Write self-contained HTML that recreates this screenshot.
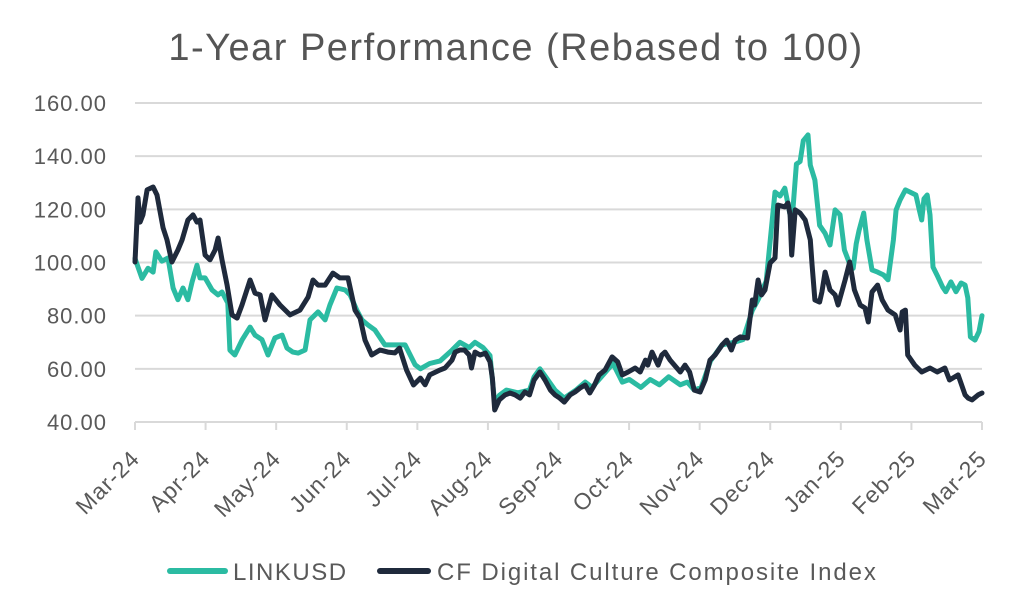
<!DOCTYPE html>
<html><head><meta charset="utf-8"><style>
body{margin:0;background:#fff;}
svg text{font-family:"Liberation Sans",sans-serif;fill:#595959;}
</style></head><body>
<svg id="chart" width="1014" height="604" xmlns="http://www.w3.org/2000/svg">
<text x="516" y="60" text-anchor="middle" font-size="38" letter-spacing="1.5" style="fill:#555">1-Year Performance (Rebased to 100)</text>
<g id="grid"></g><g id="yaxis"></g><g id="xaxis"></g><g id="series"></g>
<g>
<line x1="170" y1="571" x2="225" y2="571" stroke="#2bbba2" stroke-width="6" stroke-linecap="round"/>
<text x="233" y="580" font-size="24" letter-spacing="1.5">LINKUSD</text>
<line x1="380" y1="571" x2="428" y2="571" stroke="#1f2a3c" stroke-width="6" stroke-linecap="round"/>
<text x="437" y="580" font-size="24" letter-spacing="1.9">CF Digital Culture Composite Index</text>
</g>
</svg>
<script>
const yTicks=[40,60,80,100,120,140,160];
const xLabels=["Mar-24","Apr-24","May-24","Jun-24","Jul-24","Aug-24","Sep-24","Oct-24","Nov-24","Dec-24","Jan-25","Feb-25","Mar-25"];
const cfDays=[0,1.3,2.2,3.4,5.2,7.8,9.5,12.1,13.8,15.9,18.5,20.3,22.8,25,26.7,28,30.2,32.3,34.5,35.8,37.5,39.7,41.8,44,46.1,49.6,51.7,53.9,56,59,62.5,66.8,71.1,74.6,76.7,78.9,81.9,85.3,88.3,91.8,94.8,97,99.1,102,105.6,109,112,114,117,120,123,125,127,131.5,133.6,136.6,138,140,142,144,145,146.5,148.7,151,153,154,155,157,159.5,161.6,163.8,166,168,170,172,174.5,176.7,179,181,183,185,187.5,189.6,191.8,194,196,198,200,202.6,205.6,208,210,212.5,215.5,217.7,220,221,222.8,225.4,227,228.4,230.6,235,237,239,241,243.5,245.7,247.8,250,253,255,257,258.6,260.8,264,266,267,268.5,270,271.5,273.7,275.8,277,280,281.4,282.3,283,284.5,286.6,288.8,291,291.8,293,295,296,297.4,299.5,301.7,303,306,308,310,312.5,314.6,316,317.6,320,322,324.5,327.6,329.7,330.6,332,333,336,339,342.6,345.7,349,351,354.7,357.7,359,360.7,363.3,365];
const cfValues=[100.2,124.3,115.2,117.9,127.3,128.4,125.4,113,108.5,100.2,104.7,108.5,116,117.9,115.2,116,102.8,101,104.7,109.2,101,91.5,80.3,79.1,84,93.4,88.5,87.8,78.4,87.8,84,80.3,82.1,87,93.4,91.5,91.5,96,94.2,94.2,82.1,79.1,70.8,65.2,67.1,66.3,66,67.8,59.6,53.9,56.5,54,57.7,59.6,60.3,63.3,66.3,67.1,67.1,65.2,60.3,66.3,65.2,65.9,62.6,56.5,44.5,48.3,50.2,50.9,50.2,49,51.3,50.2,55.8,58.8,55.8,52,50.2,49,47.5,50.2,51.3,52.8,53.9,50.9,53.9,57.7,59.6,64.5,62.6,57.7,58.8,60.3,58.8,63.3,61.4,66.3,61.4,65.2,66.3,63.3,58.8,61.4,58.8,52,51.3,55.8,63.3,65.2,69,70.8,67.1,70.8,72,71.6,85.9,84,93.4,87.8,89.7,99.8,101.7,121.6,120.9,122.4,117.9,102.8,119.8,118.6,116,108.5,99,85.9,85.1,88.9,96.4,89.7,87.8,84,93.4,100.2,89.7,84,82.9,77.6,88.9,91.5,85.9,82.1,80.3,74.6,81.4,82.1,65.2,61.4,58.8,60.3,58.8,60.3,55.8,57.7,50.2,49,48.3,50.2,50.9];
const linkDays=[0,3,5.6,7.8,9,11.6,14.2,16.4,18.5,20.7,22.8,24.6,26.7,28,30.2,33.2,35.8,37.5,40,40.9,43,46.1,49.6,51.7,54.7,57.3,60.3,63.4,65.5,68,70.3,73.3,75.4,78.9,81.9,84,87,90.5,92.7,95.6,97.8,100.4,103.4,107.7,112,116.4,120.7,123,127,131.5,136.6,140,144,146.5,150,153,155,157,160,165,170,172,174.5,177,181,185,190,194,197,202,206,210,213,218,222,226,230,235,238,241,244,248,253,258,262,266,268.5,272,275.8,278,280,282.3,283,285,286.6,288,290,291,293,295,297.4,299.5,301.7,303.8,305.7,308.2,309.5,310.8,312,314,315.4,317.6,320,322.6,324.5,326.8,328,329.7,332,334,336.5,338,339,340,341.4,342.6,343.9,346,348,349.4,351.6,353.8,356,357.7,358.9,360,362,363.7,365];
const linkValues=[101.5,94,97.8,96.4,104,100.5,101.7,90.4,86,90.4,86,92.7,99,94.2,94.2,89.7,87.8,88.9,84.8,67,65.2,70.8,75.7,72.7,71,65.2,71.6,72.7,67.8,66.3,65.9,67.1,78.4,81.4,78.4,84,90.4,89.7,87.8,82.1,78.4,76.5,74.6,69,69,69,61.5,60,62,63,67,70,68,70,68,65,47,50,52,51,52,57,60,57,52,49,52,55,53,58,62,55,56,53,56,54,57,54,55,52,53,63,69,70,71,82,86,93,126.5,125,128,117.9,114,137,138,145.8,148,136.6,131,114,111,106.6,119.8,118,104.7,99,97.8,107,112,118.6,108.5,97.2,96.4,95.3,93.5,108.5,119.8,123.5,127.3,126.5,125.4,119.8,116,124,125.4,117.9,98.3,94.6,90.8,89,92.7,89,92.3,91.5,86.7,72,70.8,74,80];

const NS="http://www.w3.org/2000/svg";
const X0=135,X1=982,Y0=422,Y1=103;
const xScale=d=>X0+d/365*(X1-X0);
const yScale=v=>Y0-(v-40)/120*(Y0-Y1);
function mk(tag,attrs,parent){const e=document.createElementNS(NS,tag);for(const k in attrs)e.setAttribute(k,attrs[k]);parent.appendChild(e);return e;}
const grid=document.getElementById('grid'),yax=document.getElementById('yaxis'),xax=document.getElementById('xaxis'),ser=document.getElementById('series');
yTicks.forEach(v=>{
  const y=yScale(v);
  if(v>40){const l=mk('line',{x1:X0,x2:X1,y1:y,y2:y,stroke:'#d9d9d9','stroke-width':2},grid);
  
  }
  const t=mk('text',{x:107,y:y+8,'text-anchor':'end','font-size':22,'letter-spacing':1},yax);
  t.textContent=v.toFixed(2);
  
  
});
const ax=mk('line',{x1:X0,x2:X1,y1:Y0,y2:Y0,stroke:'#d9d9d9','stroke-width':2},xax);


xLabels.forEach((s,i)=>{
  const x=X0+i*(X1-X0)/12;
  const tk=mk('line',{x1:x,x2:x,y1:Y0,y2:Y0+8,stroke:'#d9d9d9','stroke-width':2},xax);
  
  
  const t=mk('text',{x:x+6,y:Y0+38,'text-anchor':'end','font-size':23,'letter-spacing':1,transform:`rotate(-45 ${x+6} ${Y0+38})`},xax);
  t.textContent=s;
  
  
});
function line(days,vals,color,name){
  const d=days.map((dd,i)=>(i?'L':'M')+xScale(dd).toFixed(1)+','+yScale(vals[i]).toFixed(1)).join('');
  const p=mk('path',{d:d,fill:'none',stroke:color,'stroke-width':5,'stroke-linejoin':'round','stroke-linecap':'round'},ser);
  
  
}
line(linkDays,linkValues,'#2bbba2','linkusd-line');
line(cfDays,cfValues,'#1f2a3c','cf-index-line');
</script>
</body></html>
